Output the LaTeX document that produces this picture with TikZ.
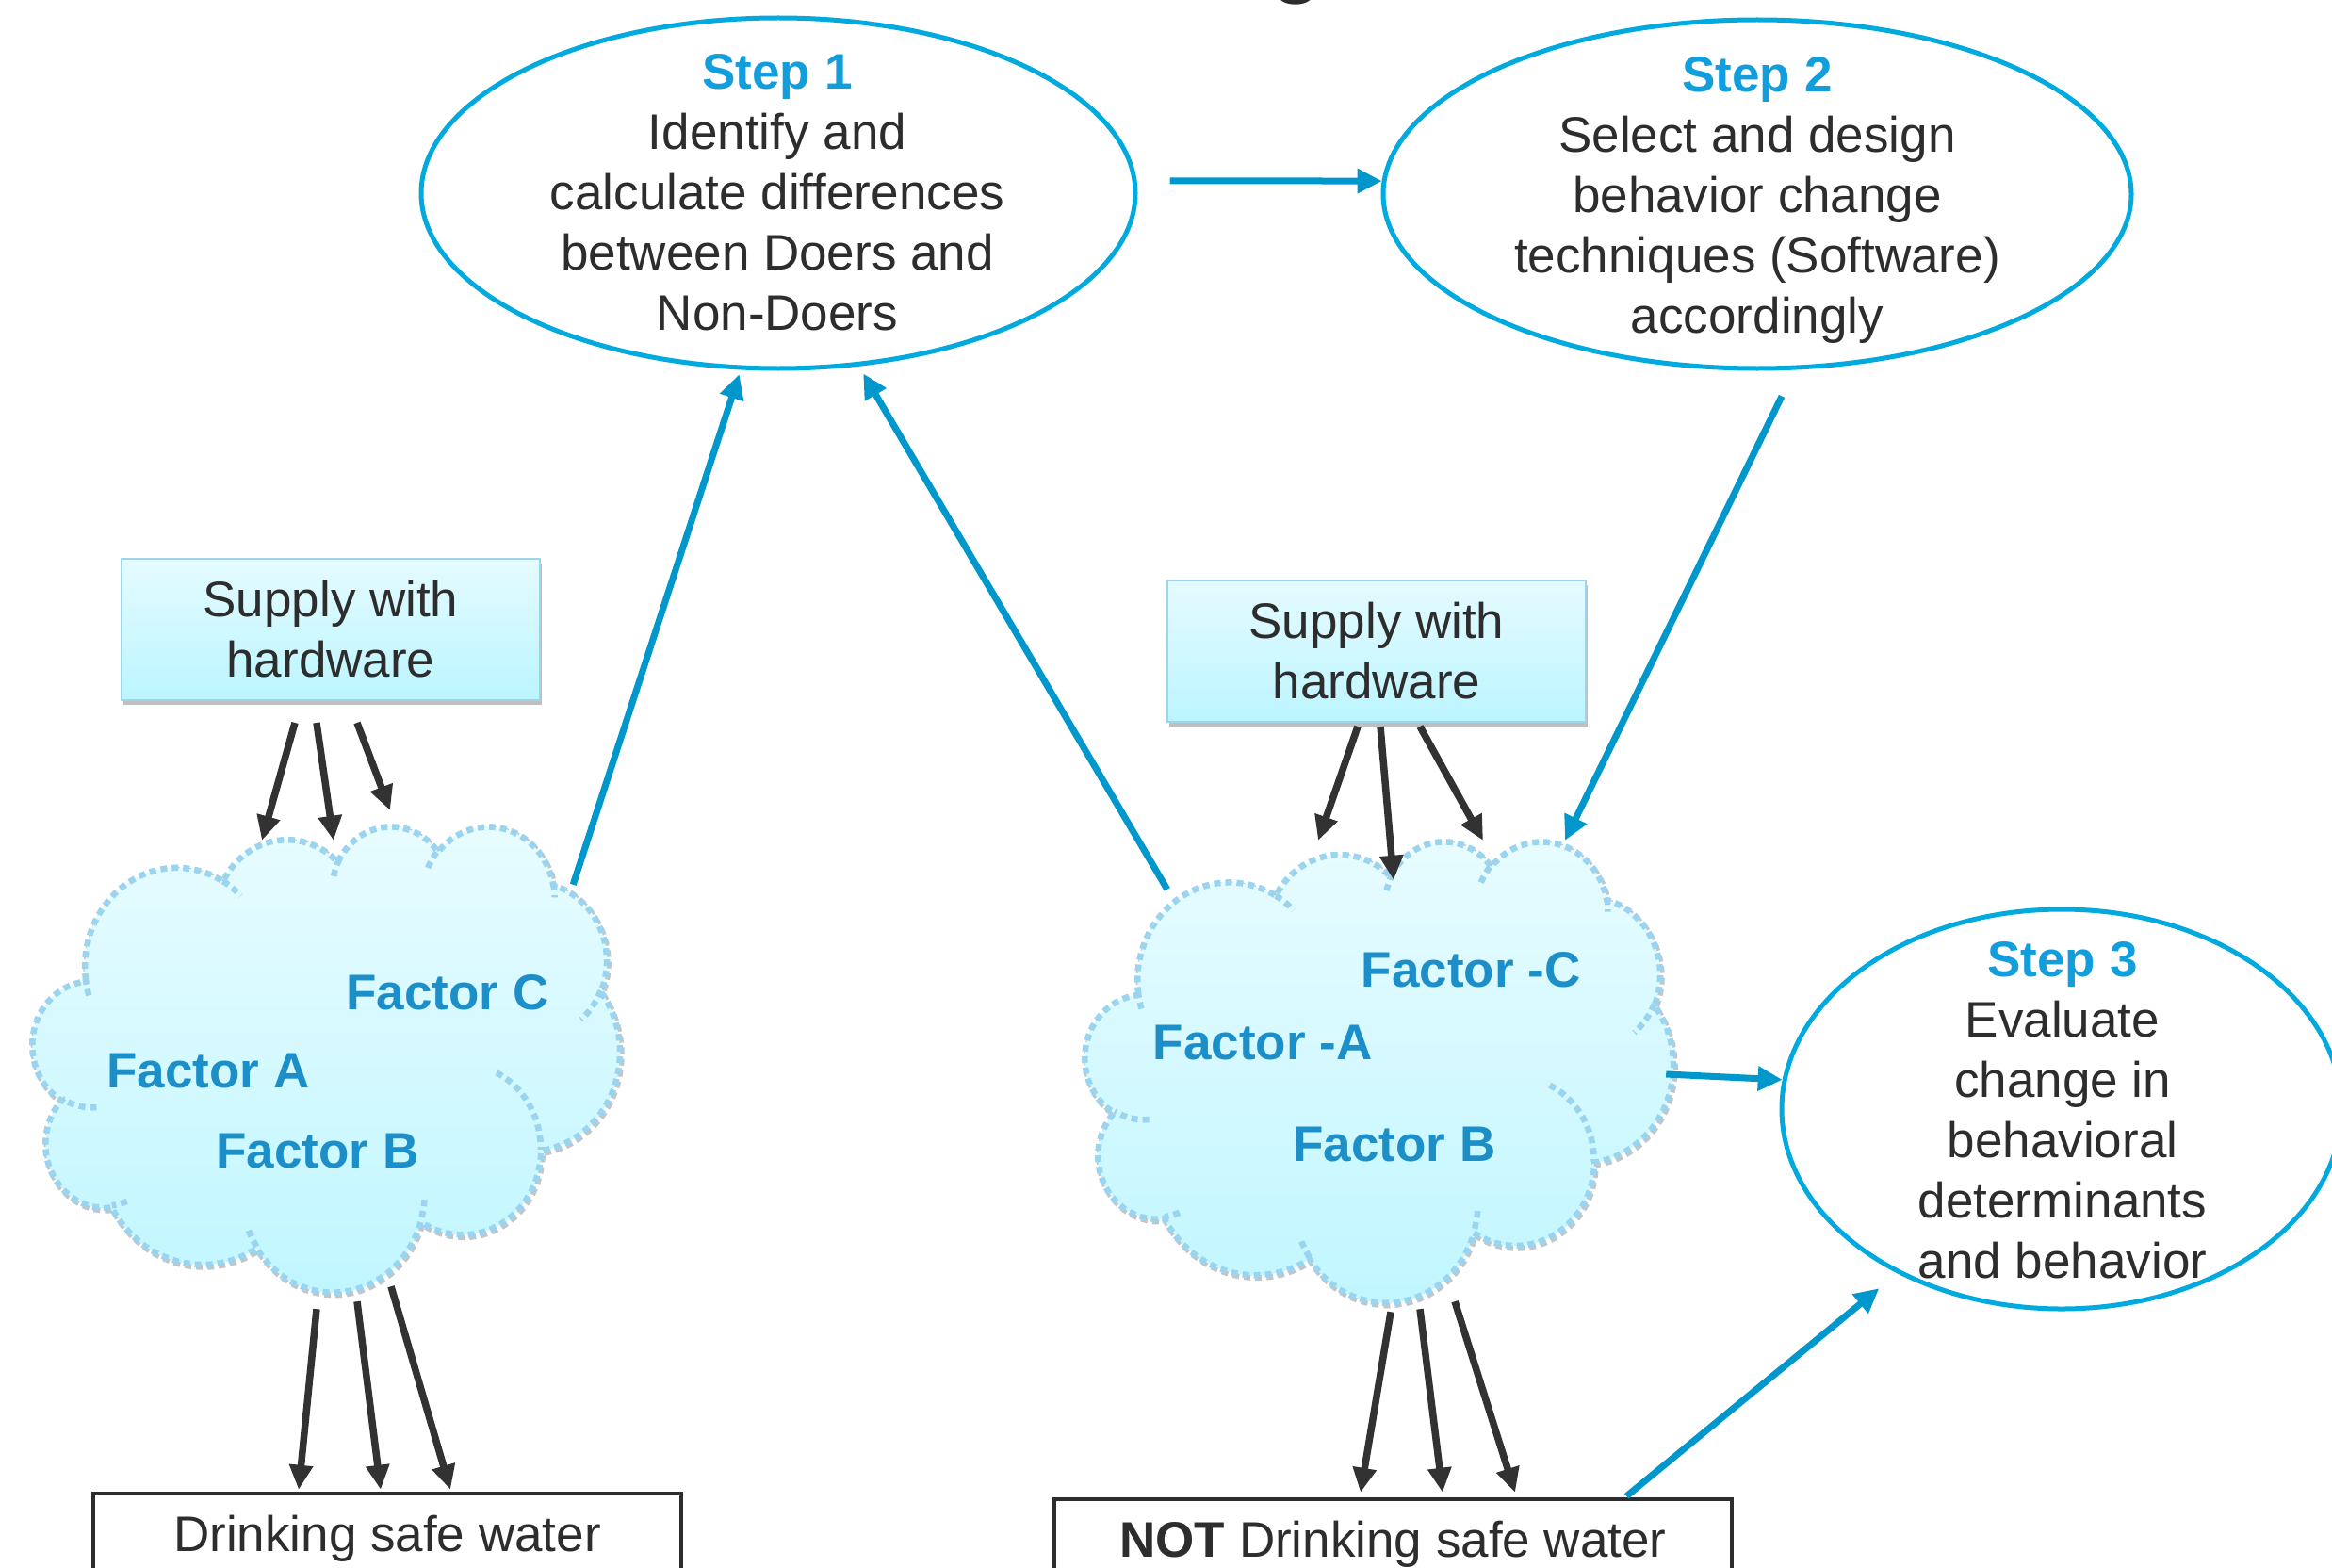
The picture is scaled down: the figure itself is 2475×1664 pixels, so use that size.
\documentclass[tikz,border=0pt]{standalone}
\usepackage{fontspec}
\setmainfont{Liberation Sans}
\usetikzlibrary{shapes.geometric, arrows.meta, calc, shadows}
\definecolor{txt}{RGB}{45,45,45}
\definecolor{ellc}{RGB}{0,170,222}
\definecolor{barc}{RGB}{0,152,204}
\definecolor{darc}{RGB}{50,50,50}
\definecolor{stepc}{RGB}{18,158,220}
\definecolor{factc}{RGB}{28,142,200}
\definecolor{boxtop}{RGB}{228,251,255}
\definecolor{boxbot}{RGB}{188,245,255}
\definecolor{boxline}{RGB}{155,212,235}
\definecolor{cloudtop}{RGB}{232,252,255}
\definecolor{cloudbot}{RGB}{192,246,255}
\definecolor{cloudline}{RGB}{155,212,238}

\newcommand{\cloudmain}{(390,1437)
 arc[start angle=172.26, end angle=300.37, x radius=675.3pt, y radius=919pt]
 arc[start angle=-152.02, end angle=-45.47, x radius=533.3pt, y radius=726.7pt]
 arc[start angle=-153.49, end angle=-37.33, x radius=436.5pt, y radius=594.5pt]
 arc[start angle=-139.71, end angle=-10.21, x radius=485.7pt, y radius=659.5pt]
 arc[start angle=-74.77, end angle=23.21, x radius=533.3pt, y radius=727.3pt]
 arc[start angle=-37.52, end angle=81.86, x radius=677.5pt, y radius=922pt]
 arc[start angle=0.46, end angle=121.98, x radius=578.5pt, y radius=786.7pt]
 arc[start angle=16.84, end angle=146.23, x radius=675.2pt, y radius=921.5pt]
 arc[start angle=58.99, end angle=150.19, x radius=772pt, y radius=1054.3pt]
 arc[start angle=83.31, end angle=223.09, x radius=436pt, y radius=591.8pt]
 arc[start angle=120.36, end angle=264.11, x radius=434.5pt, y radius=594.5pt]
 -- cycle}
\newcommand{\cloudinner}{
 (469.3,2617.7) arc[start angle=85.55, end angle=120.36, x radius=434.5pt, y radius=594.5pt]
 (692.8,3489.9) arc[start angle=68.24, end angle=83.31, x radius=436pt, y radius=591.8pt]
 (1647.8,3909) arc[start angle=146.23, end angle=158.47, x radius=675.2pt, y radius=921.5pt]
 (2882.7,3475.1) arc[start angle=4.74, end angle=16.84, x radius=675.2pt, y radius=921.5pt]
 (3412.9,2295.4) arc[start angle=-64.03, end angle=0.46, x radius=578.5pt, y radius=786.7pt]
 (4179.8,1535.4) arc[start angle=23.21, end angle=49.64, x radius=533.3pt, y radius=727.3pt]
 (3832.4,542.6) arc[start angle=-10.21, end angle=0.82, x radius=485.7pt, y radius=659.5pt]
 (2907.8,395.2) arc[start angle=-156.29, end angle=-139.71, x radius=485.7pt, y radius=659.5pt]
 (2214.1,472) arc[start angle=-167.73, end angle=-153.49, x radius=436.5pt, y radius=594.5pt]
 (1400,519.2) arc[start angle=-59.63, end angle=-45.74, x radius=675.3pt, y radius=919pt]
 (412.7,1578.9) arc[start angle=163.19, end angle=172.26, x radius=675.3pt, y radius=919pt]}
\newcommand{\drawpptcloud}[3]{%
 \begin{scope}[shift={($(#1.north west)+(1.5,2.5)$)}, xscale=#2, yscale=-#3, x=1pt, y=1pt]
  \draw[cloudshadow] \cloudmain;
 \end{scope}
 \begin{scope}[shift={(#1.north west)}, xscale=#2, yscale=-#3, x=1pt, y=1pt]
  \shade[top color=cloudtop, bottom color=cloudbot] \cloudmain;
  \draw[clouddash] \cloudmain;
  \draw[clouddash] \cloudinner;
 \end{scope}}

\begin{document}
\begin{tikzpicture}[x=1pt, y=-1pt,
  big/.style={font=\fontsize{53}{64}\selectfont},
  stepell/.style={ellipse, draw=ellc, line width=5pt, fill=white, inner sep=0pt},
  steptext/.style={big, align=center, text=txt, inner sep=0pt},
  supply/.style={rectangle, draw=boxline, line width=2pt, top color=boxtop, bottom color=boxbot,
     minimum width=444pt, minimum height=150pt, inner sep=0pt, align=center, text=txt, big,
     drop shadow={shadow xshift=2pt, shadow yshift=-5pt, fill=black, opacity=.25}},
  outbox/.style={rectangle, draw=txt, line width=4.5pt, fill=white, minimum height=96pt,
     inner sep=0pt, text=txt, big},
  factor/.style={anchor=base, inner sep=0pt, text=factc, font=\fontsize{53}{64}\selectfont\bfseries},
  cloudbox/.style={inner sep=0pt, draw=none},
  clouddash/.style={draw=cloudline, line width=6.5pt, dash pattern=on 7pt off 5pt},
  cloudshadow/.style={draw=black!50, draw opacity=.45, line width=6.5pt, dash pattern=on 7pt off 5pt},
  darr/.style={draw=darc, line width=7.5pt, -{Triangle[length=26pt,width=24pt]}},
  barr/.style={draw=barc, line width=7pt, -{Triangle[length=26pt,width=25pt]}}]

\useasboundingbox (0,0) rectangle (2475,1664);
\fill[white] (0,0) rectangle (2475,1664);

% cut-off title fragment
\node[anchor=base, inner sep=0pt, text=txt, font=\fontsize{88}{100}\selectfont\bfseries] (ttl) at (1376,-13.5) {g};

% step ellipses
\node[stepell, minimum width=758pt, minimum height=372pt] (s1) at (826,205) {};
\node[steptext] (s1t) at (825,204) {\textcolor{stepc}{\bfseries Step 1}\\Identify and\\calculate differences\\between Doers and\\Non-Doers};
\node[stepell, minimum width=794pt, minimum height=370pt] (s2) at (1865,206) {};
\node[steptext] (s2t) at (1865,212) {\textcolor{stepc}{\bfseries Step 2}\\Select and design\\behavior change\\techniques (Software)\\accordingly};
\node[stepell, minimum width=594pt, minimum height=424pt] (s3) at (2188,1177) {};
\node[steptext] (s3t) at (2189,1178) {\textcolor{stepc}{\bfseries Step 3}\\Evaluate\\change in\\behavioral\\determinants\\and behavior};

% supply boxes
\node[supply] (sl) at (351,668) {Supply with\\hardware};
\node[supply] (sr) at (1461,691) {Supply with\\hardware};

% clouds
\node[cloudbox, minimum width=623pt, minimum height=494pt] (cl) at (346.5,1123) {};
\drawpptcloud{cl}{0.14421}{0.11435}
\node[cloudbox, minimum width=624pt, minimum height=489pt] (cr) at (1464,1136.5) {};
\drawpptcloud{cr}{0.14444}{0.11319}

\node[factor] (fc) at (475,1071) {Factor C};
\node[factor] (fa) at (221,1154.5) {Factor A};
\node[factor] (fb) at (337,1239) {Factor B};
\node[factor] (fnc) at (1561,1047) {Factor -C};
\node[factor] (fna) at (1340,1124) {Factor -A};
\node[factor] (fnb) at (1480,1232) {Factor B};

% outcome boxes
\node[outbox, minimum width=624pt] (bl) at (411,1633) {Drinking safe water};
\node[outbox, minimum width=719pt] (br) at (1478.5,1639) {\textbf{NOT} Drinking safe water};

% dark arrows
\draw[darr] ($(sl.south)+(-38,23)$) -- ($(cl.north)+(-68.5,16)$);
\draw[darr] ($(sl.south)+(-15,23)$) -- ($(cl.north)+(7.5,16)$);
\draw[darr] ($(sl.south)+(28,23)$) -- ($(cl.north)+(67.5,-16)$);
\draw[darr] ($(cl.south)+(-10.5,19)$) -- ($(bl.north)+(-94,-2)$);
\draw[darr] ($(cl.south)+(32.5,11)$) -- ($(bl.north)+(-7,-2)$);
\draw[darr] ($(cl.south)+(68.5,-5)$) -- ($(bl.north)+(67,-2)$);
\draw[darr] ($(sr.south)+(-20,4)$) -- ($(cr.north)+(-65,0)$);
\draw[darr] ($(sr.south)+(4,4)$) -- ($(cr.north)+(15,42)$);
\draw[darr] ($(sr.south)+(46,4)$) -- ($(cr.north)+(110,0)$);
\draw[darr] ($(cr.south)+(12,11)$) -- ($(br.north)+(-34.5,-5)$);
\draw[darr] ($(cr.south)+(43,8)$) -- ($(br.north)+(52.5,-5)$);
\draw[darr] ($(cr.south)+(80,0)$) -- ($(br.north)+(129.5,-5)$);

% blue arrows
\draw[barr, shorten >=5pt] ($(cl.north east)+(-50,63)$) -- (s1.258);
\draw[barr, shorten >=9pt] ($(cr.north west)+(87,52)$) -- (s1.295);
\draw[barr, shorten <=35pt] (s1.2) -- (s2.178);
\draw[barr, shorten <=31pt] (s2.282) -- ($(cr.north)+(197,0)$);
\draw[barr] ($(cr.east)+(-8,3.5)$) -- (s3.174);
\draw[barr, shorten >=25pt] ($(br.north east)+(-114,-1)$) -- (s3.225);
\end{tikzpicture}
\end{document}
